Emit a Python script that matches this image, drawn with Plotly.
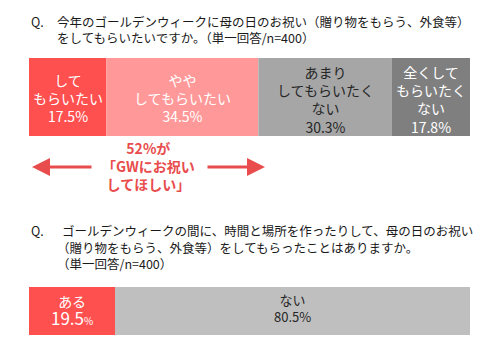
import plotly.graph_objects as go

# ---------------- data ----------------
q1_title = ["今年のゴールデンウィークに母の日のお祝い（贈り物をもらう、外食等）",
            "をしてもらいたいですか。（単一回答/n=400）"]
q1_labels = ["して<br>もらいたい", "やや<br>してもらいたい",
             "あまり<br>してもらいたく<br>ない", "全くして<br>もらいたく<br>ない"]
q1_values = [17.5, 34.5, 30.3, 17.8]

q2_title = ["ゴールデンウィークの間に、時間と場所を作ったりして、母の日のお祝い",
            "（贈り物をもらう、外食等）をしてもらったことはありますか。",
            "（単一回答/n=400）"]
q2_labels = ["ある", "ない"]
q2_values = [19.5, 80.5]

callout_text = "<b>52%が<br>「GWにお祝い<br>してほしい」</b>"

# ---------------- styles ----------------
q1_colors = ["#FF5050", "#FF9999", "#A6A6A6", "#7F7F7F"]
q1_text_colors = ["#FFFFFF", "#FFFFFF", "#262626", "#FFFFFF"]
q2_colors = ["#FF5050", "#BFBFBF"]
q2_text_colors = ["#FFFFFF", "#262626"]
accent = "#E84C4C"
FONT = "Noto Sans CJK JP"

W, H = 489, 344
L, R = 29, 19
PLOT_W = W - L - R


def px(p):
    return (p - L) / PLOT_W


def dx(p):
    return (p - L) / PLOT_W * 100


BAR1_Y, BAR1_H = 97, 78
BAR2_Y, BAR2_H = 311, 48

fig = go.Figure()
annotations = []

cum = 0
for lab, v, c, tc in zip(q1_labels, q1_values, q1_colors, q1_text_colors):
    fig.add_trace(go.Bar(x=[v], y=[BAR1_Y], width=BAR1_H, base=[cum], orientation="h",
                         marker=dict(color=c, line=dict(width=0)), hoverinfo="skip",
                         showlegend=False))
    nlines = lab.count("<br>") + 2
    annotations.append(dict(x=cum + v / 2, y=BAR1_Y + (2 if nlines == 4 else 1), xref="x", yref="y",
                            text=f"{lab}<br>{v:.1f}%", showarrow=False,
                            font=dict(family=FONT, size=14, color=tc), borderpad=0,
                            xanchor="center", yanchor="middle", align="center"))
    cum += v

cum = 0
for i, (lab, v, c, tc) in enumerate(zip(q2_labels, q2_values, q2_colors, q2_text_colors)):
    fig.add_trace(go.Bar(x=[v], y=[BAR2_Y], width=BAR2_H, base=[cum], orientation="h",
                         marker=dict(color=c, line=dict(width=0)), hoverinfo="skip",
                         showlegend=False))
    if i == 0:
        txt = (f"{lab}<br><span style='font-size:17px'>{v:.1f}</span>"
               f"<span style='font-size:10px'>%</span>")
        fs, yy = 14, BAR2_Y - 1
    else:
        txt = f"{lab}<br>{v:.1f}%"
        fs, yy = 13, BAR2_Y - 3
    annotations.append(dict(x=cum + v / 2, y=yy, xref="x", yref="y",
                            text=txt, showarrow=False, borderpad=0,
                            font=dict(family=FONT, size=fs, color=tc),
                            xanchor="center", yanchor="middle", align="center"))
    cum += v

# titles
title_font = dict(family=FONT, size=12.5, color="#1A1A1A")
annotations.append(dict(x=px(30), y=21, xref="paper", yref="y", text="Q.", showarrow=False,
                        font=title_font, xanchor="left", yanchor="middle", borderpad=0))
annotations.append(dict(x=px(56), y=29, xref="paper", yref="y", text="<br>".join(q1_title),
                        showarrow=False, font=title_font, xanchor="left", yanchor="middle",
                        align="left", borderpad=0))

annotations.append(dict(x=px(30), y=230, xref="paper", yref="y", text="Q.", showarrow=False,
                        font=title_font, xanchor="left", yanchor="middle", borderpad=0))
annotations.append(dict(x=px(61), y=230, xref="paper", yref="y", text=q2_title[0],
                        showarrow=False, font=title_font, xanchor="left", yanchor="middle",
                        borderpad=0))
annotations.append(dict(x=px(56), y=255, xref="paper", yref="y", text="<br>".join(q2_title[1:]),
                        showarrow=False, font=title_font, xanchor="left", yanchor="middle",
                        align="left", borderpad=0))

# callout
annotations.append(dict(x=px(148), y=166, xref="paper", yref="y", text=callout_text,
                        showarrow=False, font=dict(family=FONT, size=14, color=accent),
                        xanchor="center", yanchor="middle", align="center"))
arrow_y = 167
annotations.append(dict(x=dx(32), y=arrow_y, ax=dx(93), ay=arrow_y, xref="x", yref="y",
                        axref="x", ayref="y", text="", showarrow=True, arrowhead=2,
                        arrowsize=1.2, arrowwidth=3, arrowcolor=accent))
annotations.append(dict(x=dx(265), y=arrow_y, ax=dx(206), ay=arrow_y, xref="x", yref="y",
                        axref="x", ayref="y", text="", showarrow=True, arrowhead=2,
                        arrowsize=1.2, arrowwidth=3, arrowcolor=accent))

fig.update_layout(
    width=W, height=H,
    margin=dict(l=L, r=R, t=0, b=0),
    paper_bgcolor="white", plot_bgcolor="white",
    barmode="overlay",
    xaxis=dict(range=[0, 100], visible=False, fixedrange=True),
    yaxis=dict(range=[H, 0], visible=False, fixedrange=True),
    annotations=annotations,
    font=dict(family=FONT),
)

fig.write_html("out.html", config={"displayModeBar": False})
